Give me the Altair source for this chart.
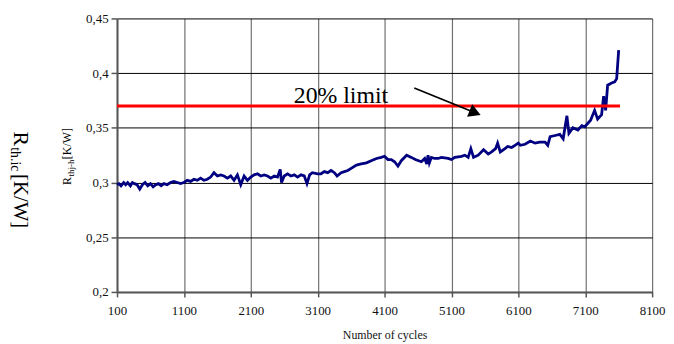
import altair as alt
import pandas as pd

cycles = [100, 130, 160, 200, 230, 260, 300, 330, 360, 400, 440, 480, 520, 560, 600, 640, 680, 720,
          760, 800, 850, 900, 950, 1000, 1050, 1100, 1150, 1200, 1250, 1300, 1350, 1400, 1450, 1500,
          1550, 1600, 1650, 1700, 1750, 1800, 1850, 1900, 1950, 2000, 2050, 2100, 2150, 2200, 2250,
          2300, 2350, 2400, 2450, 2500, 2540, 2560, 2600, 2650, 2700, 2750, 2800, 2850, 2900, 2940,
          2980, 3020, 3100, 3150, 3200, 3250, 3300, 3350, 3390, 3450, 3500, 3550, 3600, 3680, 3750,
          3830, 3900, 3980, 4050, 4100, 4150, 4200, 4250, 4300, 4350, 4430, 4500, 4560, 4650, 4700,
          4730, 4750, 4770, 4800, 4850, 4900, 4950, 5050, 5100, 5150, 5250, 5300, 5350, 5390, 5430,
          5500, 5580, 5650, 5700, 5760, 5790, 5830, 5900, 5940, 6000, 6050, 6100, 6130, 6200, 6280,
          6350, 6420, 6500, 6540, 6575, 6650, 6720, 6770, 6826, 6856, 6915, 6990, 7050, 7093, 7180,
          7240, 7285, 7345, 7375, 7405, 7435, 7495, 7540, 7570, 7600]
rth = [0.298, 0.299, 0.297, 0.300, 0.298, 0.300, 0.297, 0.300, 0.299, 0.298, 0.294, 0.298, 0.300,
       0.297, 0.299, 0.296, 0.298, 0.299, 0.297, 0.299, 0.298, 0.300, 0.301, 0.300, 0.299, 0.300,
       0.302, 0.301, 0.303, 0.302, 0.304, 0.302, 0.303, 0.305, 0.309, 0.306, 0.307, 0.306, 0.304,
       0.306, 0.302, 0.307, 0.298, 0.306, 0.302, 0.305, 0.307, 0.308, 0.306, 0.307, 0.306, 0.304,
       0.306, 0.305, 0.312, 0.300, 0.306, 0.308, 0.306, 0.307, 0.305, 0.307, 0.306, 0.299, 0.307,
       0.309, 0.308, 0.308, 0.310, 0.309, 0.311, 0.309, 0.306, 0.309, 0.310, 0.311, 0.313, 0.316,
       0.317, 0.318, 0.320, 0.322, 0.323, 0.324, 0.321, 0.321, 0.319, 0.315, 0.320, 0.325, 0.323,
       0.321, 0.319, 0.322, 0.317, 0.325, 0.318, 0.323, 0.322, 0.322, 0.323, 0.322, 0.321, 0.323,
       0.324, 0.325, 0.323, 0.331, 0.323, 0.325, 0.330, 0.326, 0.328, 0.331, 0.336, 0.328, 0.331,
       0.333, 0.332, 0.334, 0.336, 0.334, 0.335, 0.338, 0.336, 0.337, 0.337, 0.334, 0.342, 0.343,
       0.344, 0.340, 0.361, 0.345, 0.350, 0.348, 0.352, 0.351, 0.357, 0.366, 0.358, 0.362, 0.379,
       0.366, 0.389, 0.391, 0.392, 0.395, 0.421]

x_ticks = [100, 1100, 2100, 3100, 4100, 5100, 6100, 7100, 8100]
y_ticks = [0.2, 0.25, 0.3, 0.35, 0.4, 0.45]

limit_value = [0.37]
limit_start = [100]
limit_end = [7620]

note_text = ["20% limit"]
note_x = [3448]
note_y = [0.3727]

arrow_x = [4544]
arrow_y = [0.3864]
arrow_x2 = [5454]
arrow_y2 = [0.3638]

FONT = "Liberation Serif"

df = pd.DataFrame({"cycles": cycles, "rth": rth})
limit_df = pd.DataFrame({"x": limit_start, "x2": limit_end, "y": limit_value})
note_df = pd.DataFrame({"x": note_x, "y": note_y, "t": note_text})
arrow_df = pd.DataFrame({"x": arrow_x, "y": arrow_y, "x2": arrow_x2, "y2": arrow_y2})

xscale = alt.Scale(domain=[100, 8100], nice=False, zero=False)
yscale = alt.Scale(domain=[0.2, 0.45], nice=False, zero=False)

xaxis = alt.Axis(values=x_ticks, format="d", title="Number of cycles", grid=True,
                 gridColor="#707070", gridWidth=1.2, domainColor="#555555", domainWidth=2,
                 tickColor="#555555", tickSize=5, tickWidth=1.5, labelFont=FONT,
                 labelFontSize=13, labelColor="#111111", labelPadding=8, labelFlush=False,
                 labelOverlap=False, labelBound=False,
                 titleFont=FONT, titleFontSize=12, titleFontWeight="normal",
                 titleColor="#111111", titlePadding=12)
yaxis = alt.Axis(values=y_ticks,
                 labelExpr="replace(format(datum.value, '.2~f'), '.', ',')",
                 title="", grid=True, gridColor="#000000", gridWidth=1,
                 domainColor="#555555", domainWidth=2, tickColor="#555555",
                 tickSize=6, tickWidth=1.5, labelFont=FONT, labelFontSize=13,
                 labelColor="#111111", labelPadding=3, labelFlush=False, labelOverlap=False)


def X(field):
    return alt.X(field, scale=xscale, axis=xaxis, title="Number of cycles")


def Y(field):
    return alt.Y(field, scale=yscale, axis=yaxis, title="")


line = alt.Chart(df).mark_line(color="#000080", strokeWidth=2.8).encode(
    x=X("cycles:Q"), y=Y("rth:Q"),
)

limit = alt.Chart(limit_df).mark_rule(color="#ff0000", strokeWidth=3).encode(
    x=X("x:Q"), x2="x2:Q", y=Y("y:Q"),
)

note = alt.Chart(note_df).mark_text(font=FONT, fontSize=24, align="center",
                                    baseline="alphabetic", color="#000000").encode(
    x=X("x:Q"), y=Y("y:Q"), text="t:N",
)

arrow_line = alt.Chart(arrow_df).mark_rule(color="#000000", strokeWidth=1.8).encode(
    x=X("x:Q"), x2="x2:Q", y=Y("y:Q"), y2="y2:Q",
)

arrow_head = alt.Chart(arrow_df).mark_point(shape="triangle-right", size=190, filled=True,
                                           opacity=1, color="#000000", angle=22).encode(
    x=X("x2:Q"), y=Y("y2:Q"),
)


def label(text, x, y, size, angle):
    return alt.Chart(pd.DataFrame({"t": [text]})).mark_text(
        font=FONT, fontSize=size, angle=angle, align="left", baseline="alphabetic",
        color="#000000").encode(x=alt.value(x), y=alt.value(y), text="t:N")


labels = [
    label("R", -104, 114, 22, 90),
    label("th.ic", -107, 130, 14, 90),
    label("[K/W]", -104, 157, 21, 90),
    label("R", -46, 168, 12, 270),
    label("thj-h", -43, 159.5, 9, 270),
    label("[K/W]", -46, 142, 12, 270),
]

chart = alt.layer(line, limit, note, arrow_line, arrow_head, *labels).properties(
    width=540, height=276,
    padding={"left": 110, "top": 9, "right": 14, "bottom": 50},
    autosize=alt.AutoSizeParams(type="none"),
).configure_view(strokeWidth=0)

chart.save("out.html", embed_options={"renderer": "svg", "actions": False})
